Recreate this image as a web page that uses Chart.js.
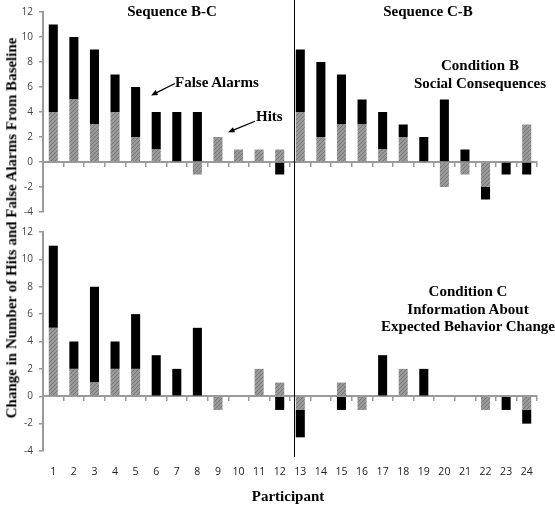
<!DOCTYPE html>
<html>
<head>
<meta charset="utf-8">
<script src="https://cdn.jsdelivr.net/npm/chart.js@4/dist/chart.umd.min.js"></script>
<style>
    body { margin: 0; width: 555px; height: 509px; background: #fff; position: relative; overflow: hidden; }
    canvas { position: absolute; left: 0; }
    .lbl { position: absolute; font-family: "Liberation Serif", "Times New Roman", serif; font-weight: bold; font-size: 15px; color: #000; white-space: nowrap; text-align: center; line-height: 17.5px; transform: translate(-50%, -50%); }
    .left { transform: translate(0, -50%); text-align: left; }
    #divider { position: absolute; left: 294px; top: 0; width: 1px; height: 457px; background: #000; }
</style>
</head>
<body>
<canvas id="topChart" width="555" height="230" style="top:0"></canvas>
<canvas id="bottomChart" width="555" height="289" style="top:220px"></canvas>
<div id="divider"></div>

<div class="lbl" style="left:172px; top:12px">Sequence B-C</div>
<div class="lbl" style="left:428px; top:12px">Sequence C-B</div>
<div class="lbl" style="left:480px; top:74px">Condition B<br>Social Consequences</div>
<div class="lbl left" style="left:175px; top:83px">False Alarms</div>
<div class="lbl left" style="left:256px; top:117px">Hits</div>
<div class="lbl" style="left:468px; top:309px">Condition C<br>Information About<br>Expected Behavior Change</div>
<div class="lbl" style="left:288px; top:497px">Participant</div>
<div class="lbl" style="left:12px; top:228px; transform: translate(-50%, -50%) rotate(-90deg)">Change in Number of Hits and False Alarms From Baseline</div>

<script>
const participants = ['1', '2', '3', '4', '5', '6', '7', '8', '9', '10', '11', '12',
    '13', '14', '15', '16', '17', '18', '19', '20', '21', '22', '23', '24'];

// Condition B (top panel)
const hitsB = [4, 5, 3, 4, 2, 1, 0, -1, 2, 1, 1, 1, 4, 2, 3, 3, 1, 2, 0, -2, -1, -2, 0, 3];
const falseAlarmsB = [7, 5, 6, 3, 4, 3, 4, 4, 0, 0, 0, -1, 5, 6, 4, 2, 3, 1, 2, 5, 1, -1, -1, -1];

// Condition C (bottom panel)
const hitsC = [5, 2, 1, 2, 2, 0, 0, 0, -1, 0, 2, 1, -1, 0, 1, -1, 0, 2, 0, 0, 0, -1, 0, -1];
const falseAlarmsC = [6, 2, 7, 2, 4, 3, 2, 5, 0, 0, 0, -1, -2, 0, -1, 0, 3, 0, 2, 0, 0, 0, -1, -1];

const yTicks = [-4, -2, 0, 2, 4, 6, 8, 10, 12];

// gray diagonal hatch for the hits bars
function makeHatch() {
    const c = document.createElement('canvas');
    c.width = 4; c.height = 4;
    const g = c.getContext('2d');
    g.fillStyle = '#999';
    g.fillRect(0, 0, 4, 4);
    g.strokeStyle = '#777';
    g.lineWidth = 1;
    g.beginPath();
    g.moveTo(0, 4); g.lineTo(4, 0);
    g.moveTo(-1, 1); g.lineTo(1, -1);
    g.moveTo(3, 5); g.lineTo(5, 3);
    g.stroke();
    return g.createPattern(c, 'repeat');
}
const hatch = makeHatch();

const tickFont = { family: 'Open Sans', size: 10 };
const axisGray = '#9a9a9a';

function datasets(hits, fa) {
    return [{
        label: 'Hits',
        data: hits,
        backgroundColor: hatch,
        borderWidth: 0,
        barPercentage: 0.44,
        categoryPercentage: 1,
        stack: 's'
    }, {
        label: 'False Alarms',
        data: fa,
        backgroundColor: '#000',
        borderWidth: 0,
        barPercentage: 0.44,
        categoryPercentage: 1,
        stack: 's'
    }];
}

function yScale() {
    return {
        min: -4, max: 12,
        stacked: true,
        afterBuildTicks: s => { s.ticks = yTicks.map(v => ({ value: v })); },
        afterFit: s => { s.width = 43; },
        border: { color: axisGray, width: 2 },
        grid: { drawOnChartArea: false, color: axisGray, lineWidth: 1.5, tickLength: 4 },
        ticks: { font: tickFont, color: '#444', padding: 6 }
    };
}

function zeroAxis() {
    return {
        stacked: true,
        position: { y: 0 },
        afterFit: s => { s.height = 0; },
        border: { color: axisGray, width: 2 },
        grid: { drawOnChartArea: false, color: axisGray, lineWidth: 1.5, tickLength: 4 },
        ticks: { display: false }
    };
}

// annotation arrows, anchored to the category / value scales
const arrowSpecs = [
    { from: [5.91, 6.28], to: [4.75, 5.33] },
    { from: [9.8, 3.26], to: [8.49, 2.38] }
];
const arrowPlugin = {
    id: 'arrows',
    afterDraw(chart) {
        const { ctx, scales } = chart;
        ctx.save();
        ctx.strokeStyle = '#000';
        ctx.fillStyle = '#000';
        ctx.lineWidth = 1.3;
        arrowSpecs.forEach(a => {
            const x1 = scales.x.getPixelForValue(a.from[0]);
            const y1 = scales.y.getPixelForValue(a.from[1]);
            const x2 = scales.x.getPixelForValue(a.to[0]);
            const y2 = scales.y.getPixelForValue(a.to[1]);
            const ang = Math.atan2(y2 - y1, x2 - x1);
            ctx.beginPath();
            ctx.moveTo(x1, y1);
            ctx.lineTo(x2 - 5 * Math.cos(ang), y2 - 5 * Math.sin(ang));
            ctx.stroke();
            ctx.beginPath();
            ctx.moveTo(x2, y2);
            ctx.lineTo(x2 - 7 * Math.cos(ang - 0.4), y2 - 7 * Math.sin(ang - 0.4));
            ctx.lineTo(x2 - 7 * Math.cos(ang + 0.4), y2 - 7 * Math.sin(ang + 0.4));
            ctx.closePath();
            ctx.fill();
        });
        ctx.restore();
    }
};

// ===== Top panel: Condition B =====
new Chart(document.getElementById('topChart'), {
    type: 'bar',
    data: { labels: participants, datasets: datasets(hitsB, falseAlarmsB) },
    options: {
        responsive: false,
        animation: false,
        layout: { padding: { top: 11, right: 18, bottom: 18, left: 0 } },
        plugins: { legend: { display: false }, tooltip: { enabled: false } },
        scales: { x: zeroAxis(), y: yScale() }
    },
    plugins: [arrowPlugin]
});

// ===== Bottom panel: Condition C =====
new Chart(document.getElementById('bottomChart'), {
    type: 'bar',
    data: { labels: participants, datasets: datasets(hitsC, falseAlarmsC) },
    options: {
        responsive: false,
        animation: false,
        layout: { padding: { top: 12, right: 18, bottom: 18, left: 0 } },
        plugins: { legend: { display: false }, tooltip: { enabled: false } },
        scales: {
            x: zeroAxis(),
            xl: {
                type: 'category',
                position: 'bottom',
                afterFit: s => { s.height = 40; },
                border: { display: false },
                grid: { display: false, drawTicks: false },
                ticks: { font: { family: 'Open Sans', size: 10.5 }, color: '#222', padding: 15, maxRotation: 0, autoSkip: false }
            },
            y: yScale()
        }
    }
});
</script>
</body>
</html>
